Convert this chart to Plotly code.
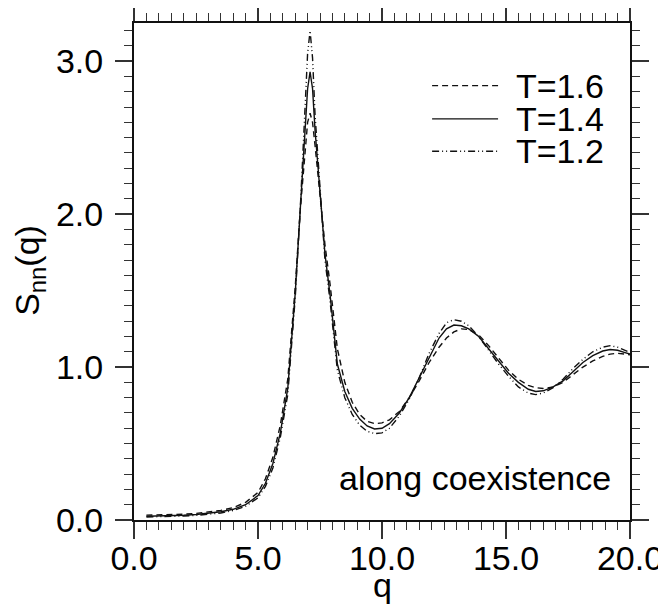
import plotly.graph_objects as go

# wave number grid (shared by all three temperatures)
q = [0.5, 1.0, 1.5, 2.0, 2.5, 3.0, 3.5, 4.0, 4.5, 5.0, 5.3, 5.6, 5.9, 6.2,
     6.5, 6.7, 6.9, 7.0, 7.1, 7.2, 7.3, 7.5, 7.7, 7.9, 8.2, 8.5, 8.8, 9.1,
     9.4, 9.7, 10.0, 10.3, 10.7, 11.1, 11.5, 11.9, 12.3, 12.6, 12.9, 13.2,
     13.5, 13.9, 14.3, 14.7, 15.1, 15.5, 15.9, 16.2, 16.5, 16.9, 17.3, 17.7,
     18.1, 18.5, 18.9, 19.2, 19.5, 19.8, 20.0]

s_t16 = [0.032, 0.033, 0.035, 0.038, 0.043, 0.051, 0.063, 0.081, 0.115, 0.18,
         0.27, 0.41, 0.62, 0.92, 1.52, 2.02, 2.45, 2.60, 2.66, 2.60, 2.45,
         2.14, 1.80, 1.55, 1.12, 0.90, 0.77, 0.69, 0.645, 0.63, 0.635, 0.655,
         0.71, 0.80, 0.91, 1.03, 1.13, 1.19, 1.23, 1.25, 1.245, 1.21, 1.14,
         1.06, 0.98, 0.92, 0.88, 0.865, 0.86, 0.87, 0.90, 0.95, 1.00, 1.04,
         1.07, 1.085, 1.09, 1.085, 1.08]

s_t14 = [0.025, 0.026, 0.028, 0.031, 0.036, 0.043, 0.054, 0.070, 0.10, 0.16,
         0.24, 0.37, 0.57, 0.86, 1.48, 2.02, 2.60, 2.82, 2.93, 2.82, 2.55,
         2.14, 1.74, 1.48, 1.02, 0.84, 0.73, 0.66, 0.615, 0.595, 0.60, 0.63,
         0.70, 0.80, 0.93, 1.07, 1.19, 1.25, 1.275, 1.27, 1.25, 1.20, 1.12,
         1.04, 0.96, 0.90, 0.855, 0.84, 0.845, 0.87, 0.91, 0.97, 1.03, 1.075,
         1.105, 1.115, 1.11, 1.095, 1.085]

s_t12 = [0.020, 0.021, 0.023, 0.026, 0.030, 0.036, 0.046, 0.062, 0.09, 0.145,
         0.22, 0.34, 0.54, 0.82, 1.45, 2.02, 2.72, 3.05, 3.20, 3.02, 2.65,
         2.15, 1.70, 1.44, 0.98, 0.80, 0.69, 0.62, 0.58, 0.565, 0.57, 0.60,
         0.68, 0.79, 0.93, 1.09, 1.22, 1.29, 1.31, 1.30, 1.27, 1.20, 1.11,
         1.02, 0.94, 0.87, 0.83, 0.82, 0.83, 0.865, 0.92, 0.99, 1.05, 1.10,
         1.13, 1.14, 1.13, 1.11, 1.095]

labels = ["T=1.6", "T=1.4", "T=1.2"]
dashes = ["6px,4px", "solid", "7px,3px,1px,3px,1px,3px"]
series = [s_t16, s_t14, s_t12]

FONT = "Arial, Liberation Sans, sans-serif"
INK = "#111"

fig = go.Figure()
for name, vals, dash in zip(labels, series, dashes):
    fig.add_trace(go.Scatter(x=q, y=vals, mode="lines", name=name,
                             line=dict(color=INK, width=1.4, dash=dash),
                             showlegend=False))

# hand-made legend in the upper right corner
legend_y = [0.874, 0.807, 0.742]
for name, dash, ly in zip(labels, dashes, legend_y):
    fig.add_shape(type="line", xref="paper", yref="paper",
                  x0=0.601, x1=0.734, y0=ly, y1=ly,
                  line=dict(color=INK, width=1.4, dash=dash))
    fig.add_annotation(xref="paper", yref="paper", x=0.766, y=ly,
                       text=name, showarrow=False, xanchor="left",
                       yanchor="middle", font=dict(size=34, color="black"))

fig.add_annotation(xref="paper", yref="paper", x=0.966, y=0.084,
                   text="along coexistence", showarrow=False,
                   xanchor="right", yanchor="middle",
                   font=dict(size=34, color="black"))

# axis titles
fig.add_annotation(xref="paper", yref="paper", x=0.5, y=-0.13,
                   text="q", showarrow=False, xanchor="center",
                   yanchor="middle", font=dict(size=34, color="black"))
fig.add_annotation(xref="paper", yref="paper", x=-0.212, y=0.503,
                   text="S<sub>nn</sub>(q)", showarrow=False, textangle=-90,
                   xanchor="center", yanchor="middle",
                   font=dict(size=34, color="black"))

axis_common = dict(showline=True, linecolor=INK, linewidth=2, mirror="ticks",
                   ticks="outside", ticklen=17, tickwidth=1.5, tickcolor="#333",
                   showgrid=False, zeroline=False, tickformat=".1f",
                   automargin=False, tickfont=dict(size=34, color="black"))

fig.update_xaxes(range=[0, 20], dtick=5, tick0=0, ticklabelstandoff=-10,
                 minor=dict(dtick=0.5, ticklen=8, ticks="outside",
                            tickwidth=1.2, tickcolor="#333"),
                 **axis_common)
fig.update_yaxes(range=[0, 3.25], dtick=1, tick0=0, ticklabelstandoff=5,
                 minor=dict(dtick=0.1, ticklen=8, ticks="outside",
                            tickwidth=1.2, tickcolor="#333"),
                 **axis_common)

# page body keeps its default 8px margin, so the figure is 8px smaller
fig.update_layout(
    width=658, height=598,
    margin=dict(l=126, r=36, t=15, b=86),
    plot_bgcolor="white", paper_bgcolor="white",
    font=dict(family=FONT, color="black"),
)

fig.write_html("out.html")
